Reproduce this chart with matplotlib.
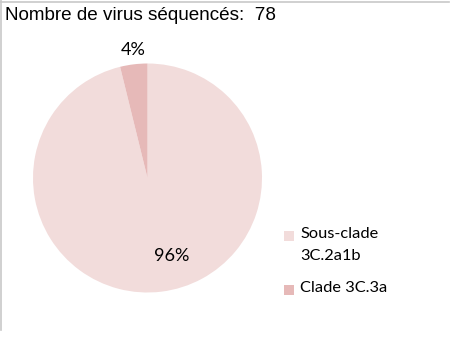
import matplotlib
matplotlib.use("Agg")
import matplotlib.pyplot as plt
from matplotlib.patches import Rectangle
from matplotlib.lines import Line2D

# donnees
categories = ["Sous-clade\n3C.2a1b", "Clade 3C.3a"]
nb_virus = [75, 3]
couleurs = ["#F2DCDB", "#E6B9B8"]
titre = "Nombre de virus séquencés:  78"

W, H = 469, 340
fig = plt.figure(figsize=(W / 100, H / 100), dpi=100)

# cadre gris (haut et gauche)
fig.add_artist(Line2D([0, 449 / W], [1 - 1.5 / H, 1 - 1.5 / H], color="#C8C8C8", lw=1.2))
fig.add_artist(Line2D([0.8 / W, 0.8 / W], [1 - 330 / H, 1], color="#C8C8C8", lw=1.2))

fig.text(5 / W, 1 - 15.5 / H, titre, fontsize=13.6, family="Liberation Sans",
         va="center", ha="left", color="#000000")

cx, cy, r = 147.5, 178, 114.5
ax = fig.add_axes([(cx - r) / W, (H - cy - r) / H, 2 * r / W, 2 * r / H])
wedges, textes, autotextes = ax.pie(nb_virus, colors=couleurs, startangle=90,
                                    counterclock=False, autopct="%1.0f%%",
                                    textprops={"fontsize": 13, "family": "Lato"})
ax.set_xlim(-1, 1)
ax.set_ylim(-1, 1)
ax.set_aspect("auto")
ax.axis("off")
# positions des etiquettes comme dans l'original
autotextes[0].set_position((24 / r, -78 / r))
autotextes[1].set_position((-14 / r, 128 / r))

# legende
pos_leg = [236, 290]
for cat, coul, y in zip(categories, couleurs, pos_leg):
    fig.add_artist(Rectangle((284 / W, 1 - (y + 5) / H), 10 / W, 10 / H,
                             facecolor=coul, edgecolor="none"))
    fig.text(300 / W, 1 - (y - 9.5) / H, cat, fontsize=11.8, family="Lato",
             va="top", ha="left", linespacing=1.75)

fig.savefig("out.png", dpi=100)
